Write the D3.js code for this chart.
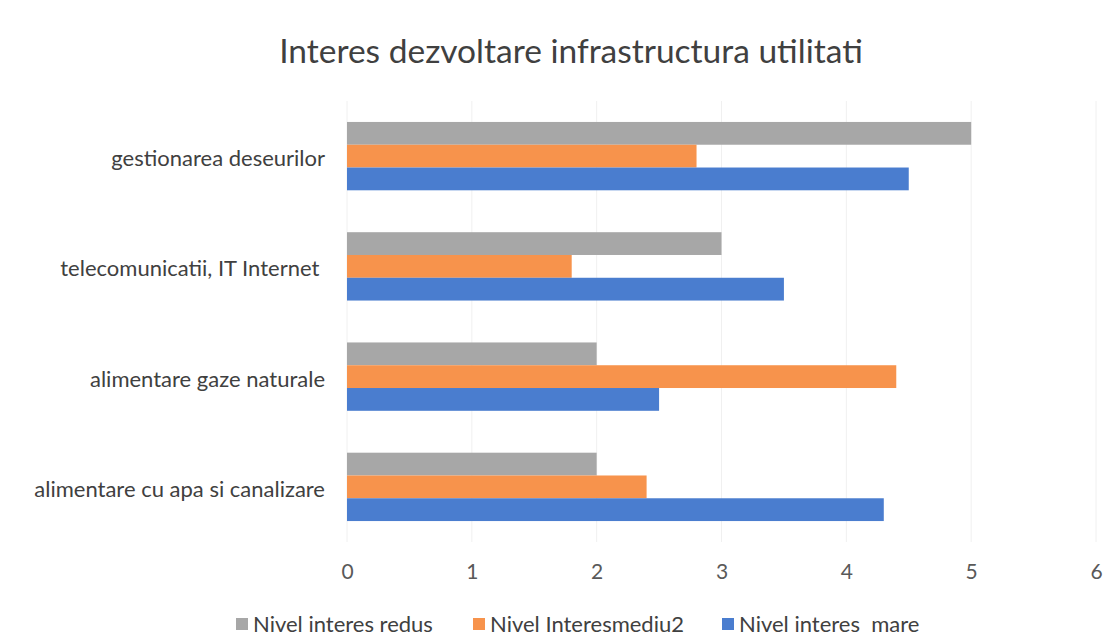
<!DOCTYPE html>
<html><head><meta charset="utf-8">
<script src="https://cdn.jsdelivr.net/npm/d3@7"></script>
<style>body{margin:0;background:#fff}svg{display:block}</style>
</head><body><div id="chart"></div>
<script>
const title = "Interes dezvoltare infrastructura utilitati";
const categories = ["gestionarea deseurilor", "telecomunicatii, IT Internet ", "alimentare gaze naturale", "alimentare cu apa si canalizare"];
const seriesNames = ["Nivel interes redus", "Nivel Interesmediu2", "Nivel interes  mare"];
const seriesColors = ["#a7a7a7", "#f7934c", "#4a7dcf"];
const redus = [5, 3, 2, 2];
const mediu = [2.8, 1.8, 4.4, 2.4];
const mare = [4.5, 3.5, 2.5, 4.3];
const xTicks = [0, 1, 2, 3, 4, 5, 6];

const seriesValues = [redus, mediu, mare];
const W = 1112, H = 636;
const font = "Lato, 'Open Sans', sans-serif";
const svg = d3.select("#chart").append("svg").attr("width", W).attr("height", H);

const x = d3.scaleLinear().domain([0, 6]).range([347, 1096]);
const y = d3.scaleBand().domain(categories).range([101, 542]).paddingInner(0.38).paddingOuter(0.19);
const ys = d3.scaleBand().domain(seriesNames).range([0, y.bandwidth()]);

// gridlines
svg.append("g").selectAll("line").data(xTicks).join("line")
  .attr("x1", d => x(d)).attr("x2", d => x(d))
  .attr("y1", 101).attr("y2", 542)
  .attr("stroke", "#f0f0f0").attr("stroke-width", 1);

// bars
const groups = svg.append("g").selectAll("g").data(categories).join("g")
  .attr("transform", c => `translate(0,${y(c)})`);
groups.selectAll("rect").data((c, i) => seriesNames.map((s, j) => ({s, j, v: seriesValues[j][i]})))
  .join("rect")
  .attr("x", x(0))
  .attr("y", d => ys(d.s))
  .attr("width", d => x(d.v) - x(0))
  .attr("height", ys.bandwidth())
  .attr("fill", d => seriesColors[d.j]);

// category labels
const yAxis = d3.axisLeft(y).tickSize(0).tickPadding(22);
const ya = svg.append("g").attr("transform", `translate(${x(0)},3)`).call(yAxis);
ya.select(".domain").remove();
ya.selectAll("text").attr("font-family", font).attr("font-size", 22).attr("fill", "#404040")
  .style("white-space", "pre");

// x axis labels
const xAxis = d3.axisBottom(x).tickValues(xTicks).tickFormat(d3.format("d")).tickSize(0).tickPadding(18);
const xa = svg.append("g").attr("transform", `translate(0,546)`).call(xAxis);
xa.select(".domain").remove();
xa.selectAll("text").attr("font-family", font).attr("font-size", 21).attr("fill", "#595959");

// title
svg.append("text").attr("x", 571).attr("y", 63).attr("text-anchor", "middle")
  .attr("font-family", font).attr("font-size", 33.5).attr("fill", "#404040").text(title);

// legend
const legendX = [236, 473, 722];
const lg = svg.append("g").selectAll("g").data(seriesNames).join("g")
  .attr("transform", (d, i) => `translate(${legendX[i]},624)`);
lg.append("rect").attr("x", 0).attr("y", -6).attr("width", 12).attr("height", 12)
  .attr("fill", (d, i) => seriesColors[i]);
lg.append("text").attr("x", 17).attr("y", 0).attr("dy", "0.35em")
  .attr("font-family", font).attr("font-size", 22).attr("fill", "#404040")
  .style("white-space", "pre").text(d => d);
</script></body></html>
